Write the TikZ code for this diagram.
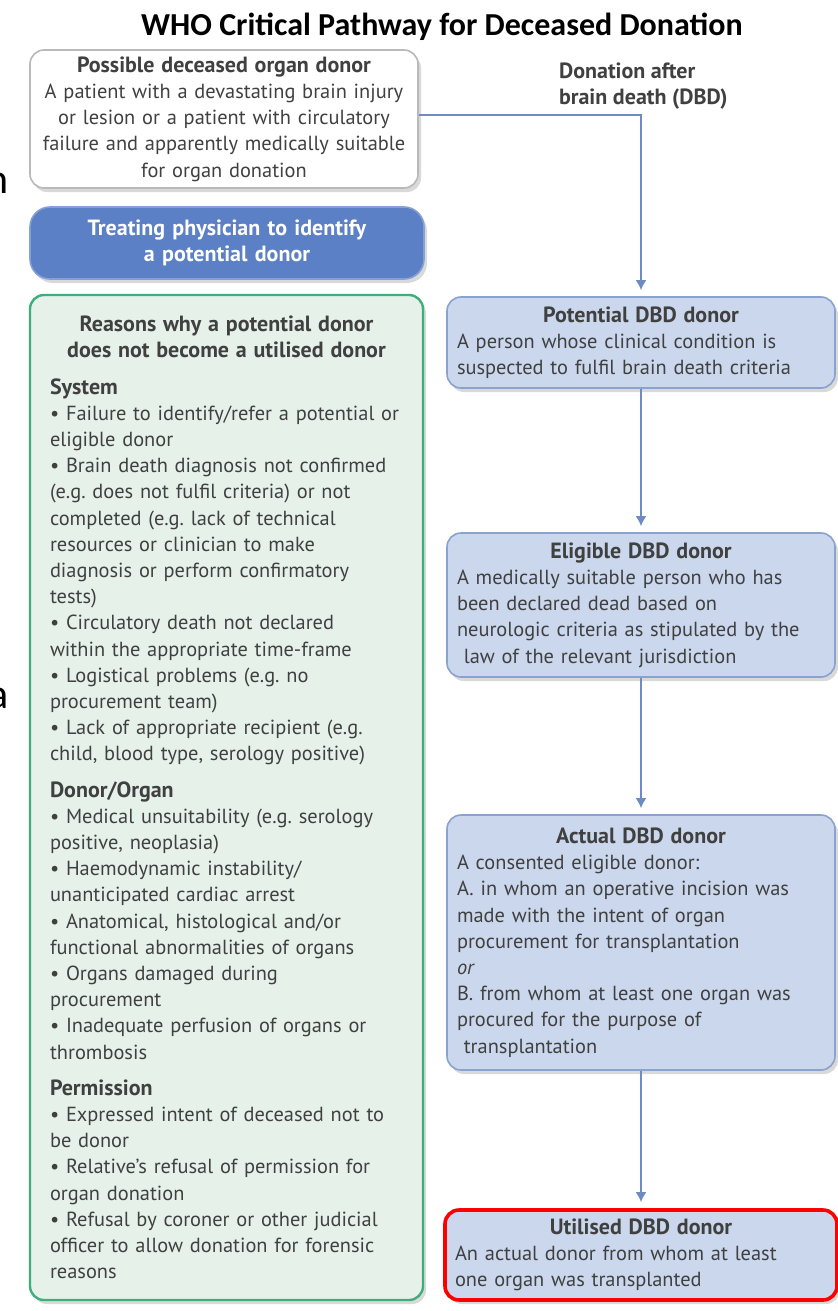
\documentclass[tikz,border=0pt]{standalone}
\usepackage{fontspec}
\setmainfont{PT Sans}
\newfontfamily\slidefont{Carlito}
\usetikzlibrary{arrows.meta,shadows}
\definecolor{dbdfill}{HTML}{CAD7EC}
\definecolor{dbdline}{HTML}{8AA2CE}
\definecolor{physician}{HTML}{5C80C6}
\definecolor{reasonline}{HTML}{3FAE7C}
\definecolor{reasonfill}{HTML}{E6F1EA}
\definecolor{flowline}{HTML}{6E8CC2}
\definecolor{bodytext}{HTML}{404040}
\definecolor{utilised}{HTML}{FF0000}
\newcommand\headfont{\fontsize{11}{13.1}\selectfont\bfseries}
\newcommand\boxhead[1]{{\centering\headfont #1\par}}
\frenchspacing

\begin{document}
\begin{tikzpicture}[x=.5pt,y=-.5pt,
 font=\fontsize{10.2}{13.1}\selectfont,
 box/.style={rounded corners=7pt,line width=.8pt,inner xsep=5pt,inner ysep=2pt,text=bodytext,
   drop shadow={opacity=.3,shadow xshift=1.5pt,shadow yshift=-2pt}},
 dbd/.style={box,draw=dbdline,fill=dbdfill,align=left,text width=184pt},
 flow/.style={draw=flowline,line width=1pt,-{Latex[length=5pt,width=5.5pt]},shorten >=3pt}]
\path[use as bounding box] (0,0) rectangle (838,1311);
\node[font=\slidefont\fontsize{16}{19}\selectfont\bfseries] (title) at (442,27) {WHO Critical Pathway for Deceased Donation};
% Letters cut off at the left edge of the slide.
\node[font=\slidefont\fontsize{21}{25}\selectfont,anchor=base east,inner sep=0pt] (cutn) at (9,193) {n};
\node[font=\slidefont\fontsize{21}{25}\selectfont,anchor=base east,inner sep=0pt] (cuta) at (9,708) {a};

\node[box,draw=gray!55,fill=white,align=center,text width=184pt,minimum height=69pt] (possible) at (224,119)
  {{\headfont Possible deceased organ donor}\\A patient with a devastating brain injury\\
   or lesion or a patient with circulatory\\failure and apparently medically suitable\\for organ donation};
\node[box,rounded corners=10pt,draw=physician!75!white,fill=physician,text=white,font=\headfont,
  align=center,text width=187pt,minimum height=36pt] (physician) at (227,243)
  {Treating physician to identify\\a potential donor};
\node[anchor=west,align=left,font=\headfont,text=bodytext] (dbdlabel) at (552,86)
  {Donation after\\brain death (DBD)};

\node[box,draw=reasonline,fill=reasonfill,line width=1.2pt,inner xsep=10pt,align=left,text width=176.5pt,
  minimum height=502.5pt] (reasons) at (226.5,797.5) {%
  {\centering\headfont Reasons why a potential donor\\does not become a utilised donor\par}
  \vspace{5pt}
  {\headfont System}\\
  • Failure to identify/refer a potential or\\
  eligible donor\\
  • Brain death diagnosis not confirmed\\
  (e.g. does not fulfil criteria) or not\\
  completed (e.g. lack of technical\\
  resources or clinician to make\\
  diagnosis or perform confirmatory\\
  tests)\\
  • Circulatory death not declared\\
  within the appropriate time-frame\\
  • Logistical problems (e.g. no\\
  procurement team)\\
  • Lack of appropriate recipient (e.g.\\
  child, blood type, serology positive)\\[5pt]
  {\headfont Donor/Organ}\\
  • Medical unsuitability (e.g. serology\\
  positive, neoplasia)\\
  • Haemodynamic instability/\\
  unanticipated cardiac arrest\\
  • Anatomical, histological and/or\\
  functional abnormalities of organs\\
  • Organs damaged during\\
  procurement\\
  • Inadequate perfusion of organs or\\
  thrombosis\\[5pt]
  {\headfont Permission}\\
  • Expressed intent of deceased not to\\
  be donor\\
  • Relative's refusal of permission for\\
  organ donation\\
  • Refusal by coroner or other judicial\\
  officer to allow donation for forensic\\
  reasons};

\node[dbd,minimum height=45.5pt] (potential) at (641,342.5)
  {\boxhead{Potential DBD donor}A person whose clinical condition is\\suspected to fulfil brain death criteria};
\node[dbd,minimum height=72pt] (eligible) at (641,605)
  {\boxhead{Eligible DBD donor}A medically suitable person who has\\been declared dead based on\\
   neurologic criteria as stipulated by the\\\ law of the relevant jurisdiction};
\node[dbd,minimum height=127.5pt] (actual) at (641,942.5)
  {\boxhead{Actual DBD donor}A consented eligible donor:\\A. in whom an operative incision was\\
   made with the intent of organ\\procurement for transplantation\\\textit{or}\\
   B. from whom at least one organ was\\procured for the purpose of\\\ transplantation};
\node[dbd,draw=utilised,line width=1.8pt,text width=186pt,minimum height=45pt] (utilised) at (641,1255)
  {\boxhead{Utilised DBD donor}An actual donor from whom at least\\one organ was transplanted};

\draw[flow] ([yshift=2pt]possible.east) -| (potential.north);
\draw[flow] (potential) -- (eligible);
\draw[flow] (eligible) -- (actual);
\draw[flow] (actual) -- (utilised);
\end{tikzpicture}
\end{document}
